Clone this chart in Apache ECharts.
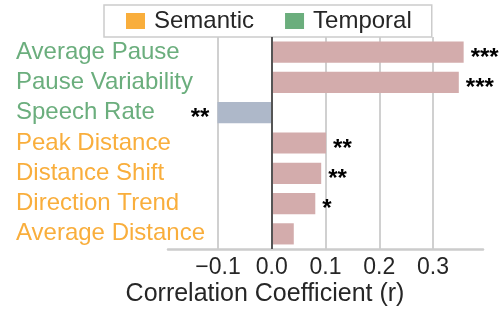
<!DOCTYPE html>
<html>
<head>
<meta charset="utf-8">
<script src="https://cdn.jsdelivr.net/npm/echarts@6/dist/echarts.min.js"></script>
<style>
  html, body { margin: 0; padding: 0; background: #fff; }
  #main { width: 501px; height: 311px; }
</style>
</head>
<body>
<div id="main"></div>
<script>
// 特征名称 / 类型 / 相关系数 / 显著性
var features = ['Average Pause', 'Pause Variability', 'Speech Rate', 'Peak Distance', 'Distance Shift', 'Direction Trend', 'Average Distance'];
var featureTypes = ['Temporal', 'Temporal', 'Temporal', 'Semantic', 'Semantic', 'Semantic', 'Semantic'];
var corrValues = [0.357, 0.348, -0.101, 0.101, 0.092, 0.081, 0.041];
var stars = ['***', '***', '**', '**', '**', '*', ''];

var semanticColor = '#f9ae3c';
var temporalColor = '#6bae7d';
var posColor = '#d3acac';
var negColor = '#aeb8c9';
var font = 'Liberation Sans, Arial, sans-serif';

var barData = [];
for (var i = 0; i < corrValues.length; i++) {
  var neg = corrValues[i] < 0;
  barData.push({
    value: corrValues[i],
    itemStyle: { color: neg ? negColor : posColor },
    label: {
      show: stars[i] != '',
      formatter: stars[i],
      position: neg ? 'left' : 'right',
      distance: neg ? 8 : 7
    }
  });
}

var option = {
  animation: false,
  backgroundColor: '#fff',
  textStyle: { fontFamily: font },
  grid: { left: 168, right: 18, top: 37, bottom: 62 },
  legend: {
    data: ['Semantic', 'Temporal'],
    left: 104,
    top: 5,
    icon: 'rect',
    itemWidth: 19,
    itemHeight: 16,
    itemGap: 31,
    padding: [4, 20, 4, 22],
    borderColor: '#cccccc',
    borderWidth: 1.5,
    borderRadius: 0,
    backgroundColor: '#fff',
    textStyle: { color: '#262626', fontSize: 24, lineHeight: 19, fontFamily: font, padding: [0, 0, 0, 4] }
  },
  xAxis: {
    type: 'value',
    min: -0.193,
    max: 0.393,
    axisLine: { show: true, lineStyle: { color: '#cccccc', width: 2.5 } },
    axisTick: { show: false },
    splitLine: { show: true, showMinLine: false, showMaxLine: false, lineStyle: { color: '#d0d0d0', width: 2 } },
    axisLabel: {
      showMinLabel: false,
      showMaxLabel: false,
      color: '#262626',
      fontSize: 23,
      margin: 7,
      formatter: function(v) {
        return v.toFixed(1).replace('-', '\u2212');
      }
    }
  },
  yAxis: {
    type: 'category',
    inverse: true,
    data: features,
    axisLine: { show: false },
    axisTick: { show: false },
    splitLine: { show: false },
    axisLabel: {
      interval: 0,
      hideOverlap: false,
      align: 'left',
      margin: 152,
      fontSize: 24,
      lineHeight: 24,
      formatter: function(v, idx) {
        return (featureTypes[idx] == 'Semantic' ? '{s|' : '{t|') + v + '}';
      },
      rich: {
        s: { color: semanticColor, fontSize: 24, lineHeight: 24, fontFamily: font },
        t: { color: temporalColor, fontSize: 24, lineHeight: 24, fontFamily: font }
      }
    }
  },
  graphic: [{
    type: 'text',
    x: 265,
    y: 294,
    style: {
      text: 'Correlation Coefficient (r)',
      fontSize: 25,
      fontFamily: font,
      fill: '#262626',
      align: 'center',
      verticalAlign: 'middle'
    }
  }],
  series: [{
    type: 'bar',
    barWidth: '70%',
    data: barData,
    label: {
      color: '#000',
      fontSize: 24,
      fontWeight: 'bold',
      fontFamily: font,
      offset: [0, 6]
    },
    markLine: {
      silent: true,
      symbol: 'none',
      label: { show: false },
      lineStyle: { color: '#555555', width: 2, type: 'solid' },
      data: [{ xAxis: 0 }]
    }
  }, {
    name: 'Semantic',
    type: 'line',
    data: [],
    itemStyle: { color: semanticColor }
  }, {
    name: 'Temporal',
    type: 'line',
    data: [],
    itemStyle: { color: temporalColor }
  }]
};

var myChart = echarts.init(document.getElementById('main'));
myChart.setOption(option);
</script>
</body>
</html>
